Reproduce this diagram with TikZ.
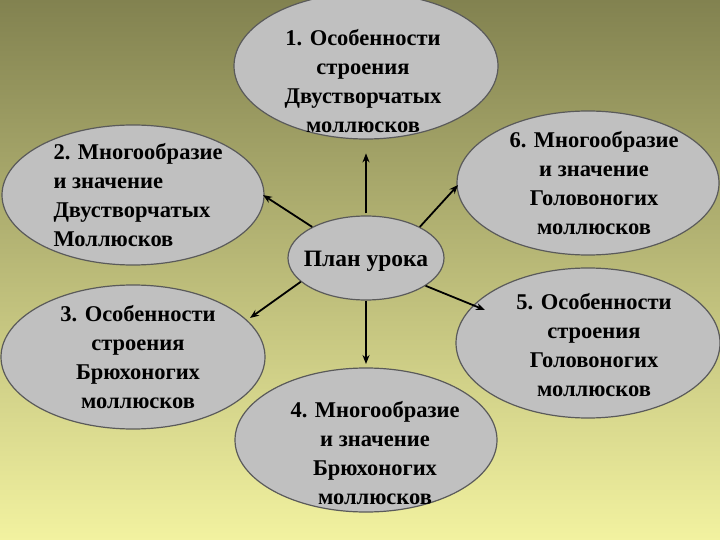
\documentclass[tikz,border=0pt]{standalone}
\usepackage{fontspec}
\setmainfont{Liberation Serif}
\usetikzlibrary{shapes.geometric,arrows.meta}
\definecolor{bgtop}{RGB}{130,130,80}
\definecolor{bgbot}{RGB}{242,242,160}
\definecolor{ellfill}{RGB}{192,192,192}
\definecolor{ellline}{RGB}{90,90,90}
\begin{document}
\begin{tikzpicture}[x=1pt,y=-1pt,
  ell/.style={ellipse,draw=ellline,line width=1.2pt,fill=ellfill,inner sep=0pt},
  lbl/.style={font=\fontsize{22.5}{29}\selectfont\bfseries,align=center},
  arr/.style={-{Stealth[length=9pt,width=7pt]},line width=1.8pt,black}]
\useasboundingbox (0,0) rectangle (720,540);
\shade[top color=bgtop,bottom color=bgbot] (0,0) rectangle (720,540);
\node[ell,minimum width=264pt,minimum height=146pt] (e1) at (366,66) {};
\node[ell,minimum width=262pt,minimum height=140pt] (e2) at (133,195) {};
\node[ell,minimum width=262pt,minimum height=144pt] (e6) at (588,183) {};
\node[ell,minimum width=264pt,minimum height=144pt] (e3) at (133,357) {};
\node[ell,minimum width=264pt,minimum height=150pt] (e5) at (588,343) {};
\node[ell,minimum width=262pt,minimum height=144pt] (e4) at (366,440) {};
\node[ell,minimum width=156pt,minimum height=84pt] (c) at (366,258) {};
\node[lbl] (t1) at (363,81) {1. Особенности\\строения\\Двустворчатых\\моллюсков};
\node[lbl,align=left] (t2) at (138,195) {2. Многообразие\\и значение\\Двустворчатых\\Моллюсков};
\node[lbl] (t6) at (594,183) {6. Многообразие\\и значение\\Головоногих\\моллюсков};
\node[lbl] (t3) at (138,357) {3. Особенности\\строения\\Брюхоногих\\моллюсков};
\node[lbl] (t5) at (594,345) {5. Особенности\\строения\\Головоногих\\моллюсков};
\node[lbl] (t4) at (375,453) {4. Многообразие\\и значение\\Брюхоногих\\моллюсков};
\node[lbl,font=\fontsize{23.5}{29}\selectfont\bfseries] (tc) at (366,261) {План урока};
\draw[arr] (c.north) ++(0,-2) coordinate (c1) -- ++(0,-60) coordinate (a1);
\draw[arr] (c.south) coordinate (c4) -- (366,364) coordinate (a4);
\draw[arr] (c.150) -- (263,195) coordinate (a2);
\draw[arr] (c.30) -- (458,185) coordinate (a6);
\draw[arr] (c.200) -- (250,318) coordinate (a3);
\draw[arr] (c.335) -- (485,310) coordinate (a5);
\end{tikzpicture}
\end{document}
